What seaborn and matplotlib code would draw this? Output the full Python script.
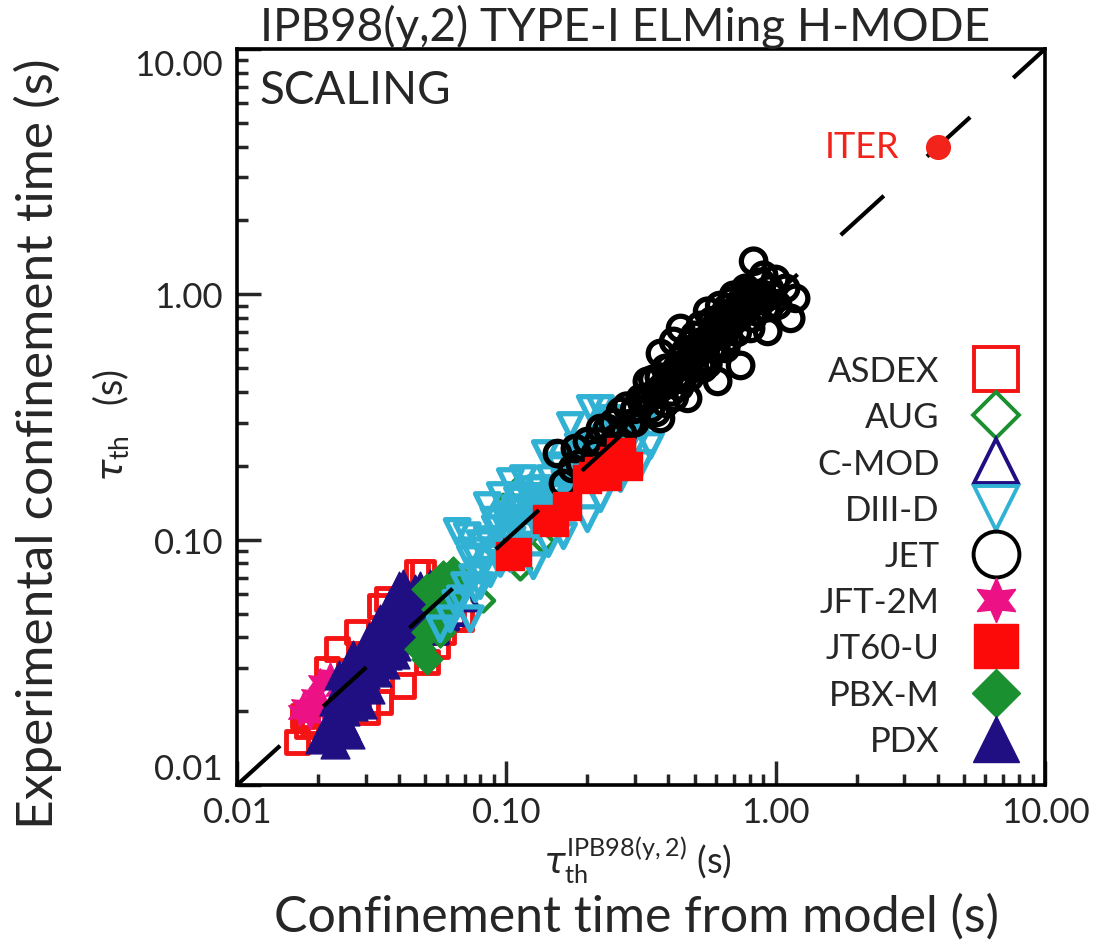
import numpy as np
import pandas as pd
import matplotlib
matplotlib.use("Agg")
import matplotlib.pyplot as plt
from matplotlib.lines import Line2D
from matplotlib.ticker import FixedLocator, FixedFormatter, LogLocator, NullFormatter
import seaborn as sns

# --- 1. Datos: (tau modelo, tau experimental) en s ---
ASDEX_X = [0.0167, 0.0182, 0.0192, 0.0176, 0.0216, 0.0235, 0.0279, 0.034, 0.0361, 0.0467, 0.0491,
           0.0675, 0.0554, 0.0508, 0.0414, 0.034, 0.0304, 0.026, 0.031, 0.038, 0.045, 0.0635, 0.058]
ASDEX_Y = [0.015, 0.0174, 0.0181, 0.0191, 0.0297, 0.0359, 0.0421, 0.0538, 0.0574, 0.074, 0.074,
           0.0476, 0.0369, 0.0318, 0.0254, 0.0218, 0.0199, 0.026, 0.032, 0.04, 0.05, 0.0476, 0.042]

AUG_X = [0.0821, 0.1128, 0.0975, 0.110, 0.137, 0.050, 0.056, 0.062, 0.045]
AUG_Y = [0.0564, 0.0762, 0.1377, 0.1615, 0.098, 0.045, 0.050, 0.060, 0.042]

CMOD_X = [0.0716, 0.055, 0.065, 0.060, 0.048]
CMOD_Y = [0.0574, 0.042, 0.050, 0.048, 0.040]

DIIID_X = [0.0657, 0.0716, 0.085, 0.095, 0.1035, 0.1157, 0.1396, 0.173, 0.205, 0.2236, 0.2436,
           0.0735, 0.080, 0.091, 0.0992, 0.108, 0.1228, 0.1337, 0.1457, 0.1588, 0.1805, 0.205,
           0.2335, 0.2654, 0.302, 0.343, 0.315,
           0.0675, 0.0767, 0.0872, 0.1035, 0.126, 0.1432, 0.163, 0.20, 0.2236, 0.2654, 0.0619,
           0.0568, 0.0735, 0.11, 0.13, 0.15, 0.17, 0.19, 0.12, 0.09, 0.10,
           0.075, 0.085, 0.095, 0.105, 0.115, 0.125, 0.14, 0.155, 0.165, 0.185, 0.20, 0.22,
           0.25, 0.28, 0.30, 0.07, 0.065, 0.08, 0.10, 0.12, 0.13, 0.16, 0.18, 0.21, 0.245,
           0.09, 0.11, 0.125, 0.155, 0.185,
           0.075, 0.085, 0.10, 0.105, 0.12, 0.135, 0.15, 0.17, 0.19, 0.20, 0.23, 0.26, 0.29,
           0.32, 0.115, 0.135, 0.095, 0.08]
DIIID_Y = [0.108, 0.1038, 0.1377, 0.1513, 0.1725, 0.1774, 0.2244, 0.2919, 0.3425, 0.3425, 0.3118,
           0.0837, 0.0963, 0.1109, 0.1218, 0.1339, 0.147, 0.1615, 0.1774, 0.195, 0.2142, 0.2352,
           0.2584, 0.2584, 0.2465, 0.2419, 0.2043,
           0.0574, 0.0631, 0.0727, 0.0837, 0.0783, 0.0963, 0.1038, 0.1218, 0.147, 0.1774, 0.0476,
           0.0433, 0.0476, 0.12, 0.13, 0.16, 0.18, 0.20, 0.105, 0.09, 0.10,
           0.07, 0.085, 0.10, 0.115, 0.13, 0.125, 0.14, 0.16, 0.17, 0.19, 0.20, 0.22,
           0.23, 0.25, 0.28, 0.065, 0.055, 0.075, 0.09, 0.11, 0.115, 0.14, 0.16, 0.18, 0.20,
           0.12, 0.145, 0.16, 0.20, 0.24,
           0.09, 0.10, 0.11, 0.10, 0.135, 0.15, 0.15, 0.16, 0.18, 0.22, 0.21, 0.24, 0.27,
           0.29, 0.095, 0.12, 0.08, 0.065]

JET_X = [0.1548, 0.163, 0.176, 0.20, 0.2142, 0.2374, 0.2543, 0.2654, 0.289, 0.315, 0.334, 0.358,
         0.3735, 0.390, 0.418, 0.4436, 0.471, 0.483, 0.526, 0.549, 0.559, 0.598, 0.609, 0.652,
         0.698, 0.741, 0.773, 0.807, 0.828, 0.879, 0.902, 0.934, 1.017, 1.089, 1.137, 1.186,
         0.343, 0.302, 0.425, 0.526, 0.652, 0.773, 0.4436, 0.3735, 0.2436, 0.2236, 0.1805, 0.1884,
         0.35, 0.40, 0.45, 0.50, 0.55, 0.60, 0.65, 0.70, 0.45, 0.50, 0.38, 0.42, 0.55, 0.60,
         0.30, 0.28, 0.33, 0.62, 0.75, 0.85, 0.90, 0.80,
         0.22, 0.25, 0.27, 0.32, 0.36, 0.40, 0.43, 0.47, 0.52, 0.57, 0.63, 0.68, 0.72, 0.78,
         0.84, 0.88, 0.95, 1.00, 0.36, 0.41, 0.48, 0.56, 0.64, 0.72, 0.82, 0.50, 0.58, 0.66,
         0.30, 0.34, 0.37, 0.39, 0.44, 0.46, 0.49, 0.53, 0.54, 0.61, 0.67, 0.70, 0.76, 0.79,
         0.86, 0.92, 0.97, 0.58, 0.62, 0.69]
JET_Y = [0.2244, 0.1693, 0.195, 0.2512, 0.2244, 0.2838, 0.2584, 0.3329, 0.2973, 0.3767, 0.4416, 0.3945,
         0.3118, 0.4989, 0.6427, 0.548, 0.3767, 0.631, 0.747, 0.602, 0.853, 0.693, 0.4416, 0.798,
         0.991, 0.513, 0.877, 0.726, 1.364, 1.009, 1.196, 0.706, 0.902, 1.058, 0.798, 0.963,
         0.3425, 0.3425, 0.454, 0.513, 0.602, 1.058, 0.726, 0.574, 0.2043, 0.2838, 0.2352, 0.2043,
         0.45, 0.50, 0.55, 0.60, 0.65, 0.75, 0.70, 0.85, 0.45, 0.50, 0.42, 0.38, 0.55, 0.60,
         0.30, 0.35, 0.38, 0.90, 0.95, 0.85, 0.95, 1.00,
         0.25, 0.30, 0.27, 0.36, 0.40, 0.44, 0.50, 0.52, 0.58, 0.66, 0.72, 0.80, 0.88, 0.92,
         0.98, 1.12, 1.05, 1.15, 0.33, 0.40, 0.46, 0.52, 0.62, 0.70, 0.80, 0.68, 0.78, 0.88,
         0.34, 0.38, 0.46, 0.36, 0.42, 0.58, 0.55, 0.64, 0.50, 0.68, 0.66, 0.78, 0.84, 1.02,
         0.94, 0.88, 0.99, 0.60, 0.80, 0.94]

JFT2M_X = [0.0176, 0.0192, 0.0204, 0.0222, 0.0235, 0.0172, 0.0209, 0.0187]
JFT2M_Y = [0.021, 0.0231, 0.0263, 0.0279, 0.0247, 0.0199, 0.021, 0.0191]

JT60U_X = [0.1035, 0.1099, 0.142, 0.15, 0.1686, 0.20, 0.2106, 0.2374, 0.2654, 0.2818, 0.2654, 0.22, 0.25]
JT60U_Y = [0.0861, 0.0893, 0.1218, 0.1184, 0.1377, 0.1774, 0.1824, 0.1824, 0.2203, 0.20, 0.2286, 0.19, 0.21]

PBXM_X = [0.0583, 0.0635, 0.0509, 0.0554, 0.0509, 0.0479, 0.0509, 0.0568, 0.0619, 0.0635, 0.0554, 0.0583]
PBXM_Y = [0.0713, 0.0693, 0.0631, 0.0523, 0.0421, 0.0359, 0.0327, 0.0421, 0.0558, 0.074, 0.060, 0.050]

PDX_X = [0.0203, 0.0231, 0.0263, 0.0222, 0.0252, 0.0242, 0.0275, 0.0263, 0.0299, 0.0287, 0.0318,
         0.0326, 0.0355, 0.034, 0.0377, 0.0387, 0.0421, 0.0414, 0.0459, 0.05, 0.0479, 0.044,
         0.0387, 0.0355, 0.0312, 0.0292, 0.0252, 0.0522, 0.0421, 0.0364,
         0.022, 0.024, 0.027, 0.030, 0.033, 0.036, 0.039, 0.042, 0.046, 0.040, 0.036, 0.033,
         0.030, 0.027, 0.025, 0.023, 0.045, 0.048, 0.040,
         0.024, 0.027, 0.031, 0.034, 0.037]
PDX_Y = [0.0154, 0.0147, 0.0161, 0.0186, 0.020, 0.0224, 0.0235, 0.0271, 0.0284, 0.0327, 0.0342,
         0.0394, 0.0413, 0.0476, 0.0499, 0.0574, 0.0548, 0.0661, 0.0631, 0.0574, 0.0476, 0.0394,
         0.0342, 0.0312, 0.0247, 0.0214, 0.0177, 0.0661, 0.0454, 0.0376,
         0.017, 0.019, 0.021, 0.026, 0.029, 0.034, 0.037, 0.042, 0.050, 0.050, 0.045, 0.038,
         0.033, 0.030, 0.025, 0.022, 0.058, 0.065, 0.065,
         0.028, 0.034, 0.040, 0.047, 0.055]

ITER_X = [4.0]
ITER_Y = [4.0]

LINEA = [0.01, 10.0]          # recta tau_exp = tau_modelo
TICKS = [0.01, 0.1, 1.0, 10.0]
TICK_LABELS = ["0.01", "0.10", "1.00", "10.00"]

MAQUINAS = ["ASDEX", "AUG", "C-MOD", "DIII-D", "JET", "JFT-2M", "JT60-U", "PBX-M", "PDX"]
XS = [ASDEX_X, AUG_X, CMOD_X, DIIID_X, JET_X, JFT2M_X, JT60U_X, PBXM_X, PDX_X]
YS = [ASDEX_Y, AUG_Y, CMOD_Y, DIIID_Y, JET_Y, JFT2M_Y, JT60U_Y, PBXM_Y, PDX_Y]

# marcador, color, relleno, tamaño scatter, grosor borde, tamaño leyenda
ESTILOS = {
    "ASDEX":  ("s", "#f41414", False, 260, 3.5, 32),
    "AUG":    ("D", "#1a9030", False, 120, 3.2, 23),
    "C-MOD":  ("^", "#1f0f82", False, 260, 3.5, 31),
    "DIII-D": ("v", "#31b2d4", False, 290, 3.8, 31),
    "JET":    ("o", "black",   False, 310, 3.8, 33),
    "JFT-2M": ((6, 1, 0), "#ec1185", True, 380, 1.0, 32),
    "JT60-U": ("s", "#fc0a0a", True, 380, 1.0, 31),
    "PBX-M":  ("D", "#1a9030", True, 250, 1.0, 24),
    "PDX":    ("^", "#1f0f82", True, 430, 1.0, 33),
}
ORDEN_DIBUJO = ["ASDEX", "AUG", "C-MOD", "JFT-2M", "PDX", "PBX-M", "DIII-D", "JET", "JT60-U"]

# --- 2. Tabla larga ---
datos = pd.concat(
    [pd.DataFrame({"tau_modelo": x, "tau_exp": y, "maquina": m}) for m, x, y in zip(MAQUINAS, XS, YS)],
    ignore_index=True,
)

# --- 3. Gráfica ---
sns.set_style("ticks")
plt.rcParams["font.family"] = ["Lato", "DejaVu Sans"]
plt.rcParams["mathtext.fontset"] = "custom"
plt.rcParams["mathtext.rm"] = "Lato"
plt.rcParams["mathtext.it"] = "DejaVu Sans:italic"
plt.rcParams["mathtext.bf"] = "Lato:bold"

fig = plt.figure(figsize=(10.94, 9.45), dpi=100)
ax = fig.add_axes([237 / 1094, 1 - 786 / 945, 808 / 1094, 736 / 945])
ax.set_xscale("log")
ax.set_yscale("log")

for m in ORDEN_DIBUJO:
    marc, col, lleno, s, lw, _ = ESTILOS[m]
    sub = datos[datos["maquina"] == m]
    sns.scatterplot(data=sub, x="tau_modelo", y="tau_exp", ax=ax, marker=marc, s=s,
                    color=col, facecolor=col if lleno else "none", edgecolor=col,
                    linewidth=lw, legend=False, zorder=2)

sns.lineplot(x=LINEA, y=LINEA, ax=ax, color="black", linewidth=3,
             linestyle=(0, (14, 14)), estimator=None, sort=False, zorder=3)

sns.scatterplot(x=ITER_X, y=ITER_Y, ax=ax, color="#f2231b", edgecolor="#f2231b",
                s=280, legend=False, zorder=5)
ax.annotate("ITER", xy=(ITER_X[0], ITER_Y[0]), xytext=(-28, 0), textcoords="offset points",
            ha="right", va="center", color="#f2231b", fontsize=26)

ax.set_xlim(0.01, 10)
ax.set_ylim(0.01, 10)

for eje in (ax.xaxis, ax.yaxis):
    eje.set_major_locator(FixedLocator(TICKS))
    eje.set_major_formatter(FixedFormatter(TICK_LABELS))
    eje.set_minor_locator(LogLocator(base=10, subs=np.arange(2, 10)))
    eje.set_minor_formatter(NullFormatter())
ax.tick_params(which="major", direction="in", length=17, width=2.5, labelsize=25,
               top=False, right=False)
ax.tick_params(which="minor", direction="in", length=8, width=2.5, top=False, right=False)
ax.tick_params(axis="x", which="major", pad=8)
ax.tick_params(axis="y", which="major", pad=10)
for sp in ax.spines.values():
    sp.set_linewidth(2.6)
    sp.set_color("black")

ax.set_xlabel(r"$\tau_{\mathrm{th}}^{\mathrm{IPB98(y,2)}}$ (s)", fontsize=26)
ax.xaxis.set_label_coords(0.496, -0.10)
ax.xaxis.label.set_va("center")
ax.set_ylabel(r"$\tau_{\mathrm{th}}$   (s)", fontsize=27)
ax.yaxis.set_label_coords(-0.155, 0.49)
ax.yaxis.label.set_va("center")

# etiquetas extremas del eje y dentro del rango del eje
etiquetas_y = ax.yaxis.get_majorticklabels()
etiquetas_y[0].set_va("bottom")
etiquetas_y[-1].set_va("top")

# leyenda a mano: texto a la izquierda, marcador a la derecha
manejadores = []
for m in MAQUINAS:
    marc, col, lleno, s, lw, ms = ESTILOS[m]
    manejadores.append(Line2D([], [], linestyle="none", marker=marc, markersize=ms,
                              markerfacecolor=col if lleno else "none", markeredgecolor=col,
                              markeredgewidth=2.8 if not lleno else 1))
ax.legend(manejadores, MAQUINAS, loc="center right", bbox_to_anchor=(1035 / 1094, 1 - 557 / 945),
          bbox_transform=fig.transFigure, frameon=False, markerfirst=False, fontsize=25,
          handlelength=2.25, handletextpad=0.5, labelspacing=0.41, borderpad=0, borderaxespad=0)

# textos exteriores
fig.text(260 / 1094, 1 - 27 / 945, "IPB98(y,2) TYPE-I ELMing H-MODE", fontsize=33, ha="left", va="center")
fig.text(260 / 1094, 1 - 91 / 945, "SCALING", fontsize=33, ha="left", va="center")
fig.text(38 / 1094, 1 - 58 / 945, "Experimental confinement time (s)", fontsize=37,
         rotation=90, ha="center", va="top")
fig.text(636 / 1094, 1 - 917 / 945, "Confinement time from model (s)", fontsize=36,
         ha="center", va="center")

fig.savefig("out.png", dpi=100)
